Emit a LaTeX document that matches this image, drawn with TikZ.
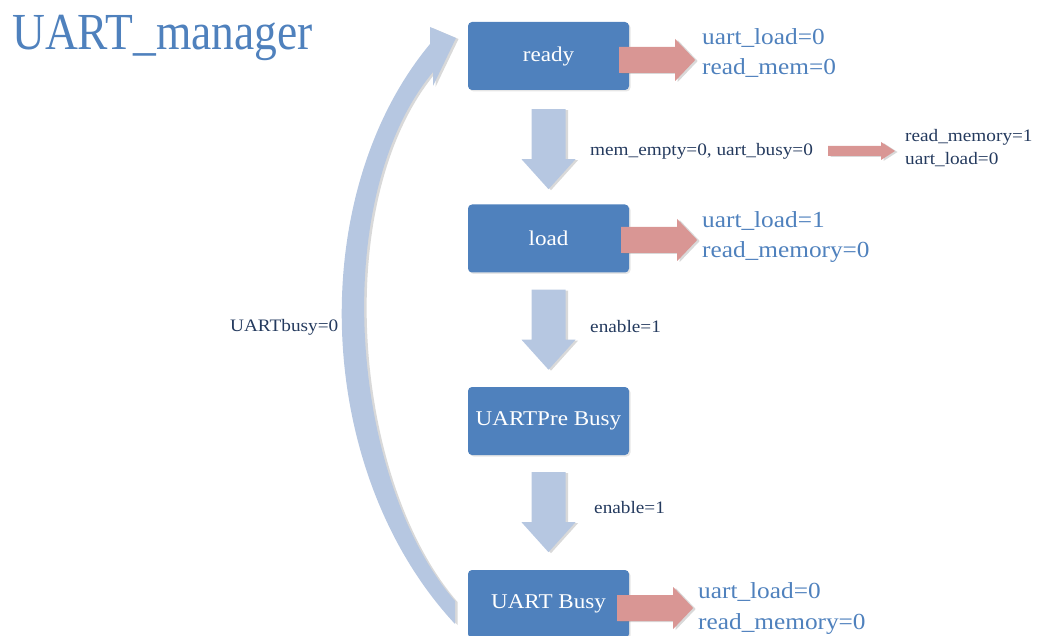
\documentclass[tikz,border=0pt]{standalone}
\usepackage{fontspec}
\setmainfont{Liberation Serif}[FakeStretch=1.1]
\newfontfamily\titlefont{Liberation Serif}[FakeStretch=0.875]
\usetikzlibrary{shadows,calc}
\definecolor{stateblue}{HTML}{4F81BD}
\definecolor{flowblue}{HTML}{B6C7E1}
\definecolor{outred}{HTML}{D99694}
\definecolor{condnavy}{HTML}{243A5E}
\tikzset{
  state/.style={rounded corners=4pt, fill=stateblue, text=white,
    minimum width=161pt, minimum height=68pt,
    font=\fontsize{21}{25}\selectfont,
    drop shadow={opacity=0.2, shadow xshift=1.5pt, shadow yshift=-1.5pt}},
  outlabel/.style={anchor=base west, inner sep=0pt, text=stateblue,
    font=\fontsize{23}{28}\selectfont},
  condlabel/.style={anchor=base west, inner sep=0pt, text=condnavy,
    font=\fontsize{17.5}{21}\selectfont},
  flowshadow/.style={drop shadow={opacity=0.3, shadow xshift=2.5pt, shadow yshift=-1pt}},
  pics/flowdown/.style={code={
    \fill[flowblue, flowshadow] (-17,0) -- (-17,50) -- (-27,50) -- (0,80)
      -- (27,50) -- (17,50) -- (17,0) -- cycle;}},
  pics/outarrow/.style={code={
    \fill[outred, flowshadow] (0,-13) -- (56,-13) -- (56,-21) -- (76,0)
      -- (56,21) -- (56,13) -- (0,13) -- cycle;}},
}
\begin{document}
\begin{tikzpicture}[x=1pt,y=-1pt]
\useasboundingbox (0,0) rectangle (1039,636);

% title
\node[anchor=base west, inner sep=0pt, text=stateblue,
  font=\titlefont\fontsize{52}{60}\selectfont] (title) at (12,50) {UART\_manager};

% return path from UART Busy back to ready (tapering curved band with head)
\fill[flowblue, flowshadow]
  (455,624) .. controls (312,470) and (305.2,194.2) .. (430,44)
  -- (430,27) -- (456,38) -- (433,86) -- (433,72)
  .. controls (327.4,199) and (350,480) .. (455,601) -- cycle;

% states
\node[state] (ready) at (548.5,56)  {ready};
\node[state] (load)  at (548.5,238.5) {load};
\node[state] (pre)   at (548.5,421) {UARTPre Busy};
\node[state] (busy)  at (548.5,604) {UART Busy};

% transitions
\pic at ($(ready.south)+(0,19)$) {flowdown};
\pic at ($(load.south)+(0,17)$)  {flowdown};
\pic at ($(pre.south)+(0,17)$)   {flowdown};

% outputs of each state
\pic at ($(ready.east)+(-10,4)$) {outarrow};
\pic at ($(load.east)+(-8,1.5)$) {outarrow};
\pic at ($(busy.east)+(-12,4)$)  {outarrow};

\node[outlabel] (readyo1) at (702,45)  {uart\_load=0};
\node[outlabel] (readyo2) at (702,75)  {read\_mem=0};
\node[outlabel] (loado1)  at (702,228) {uart\_load=1};
\node[outlabel] (loado2)  at (702,258) {read\_memory=0};
\node[outlabel] (busyo1)  at (698,598) {uart\_load=0};
\node[outlabel] (busyo2)  at (698,629) {read\_memory=0};

% transition conditions
\node[condlabel] (c1) at (590,156) {mem\_empty=0, uart\_busy=0};
\node[condlabel] (c1a) at (905,142) {read\_memory=1};
\node[condlabel] (c1b) at (905,165) {uart\_load=0};
\coordinate (c1s) at (828,151);
\coordinate (c1e) at (895,151);
\fill[outred, flowshadow] ($(c1s)+(0,-5)$) -- ($(c1e)+(-14,-5)$) -- ($(c1e)+(-14,-9)$)
  -- (c1e) -- ($(c1e)+(-14,9)$) -- ($(c1e)+(-14,5)$) -- ($(c1s)+(0,5)$) -- cycle;
\node[condlabel] (c2) at (590,333) {enable=1};
\node[condlabel] (c3) at (594,513) {enable=1};
\node[condlabel] (c4) at (230,331) {UARTbusy=0};
\end{tikzpicture}
\end{document}
